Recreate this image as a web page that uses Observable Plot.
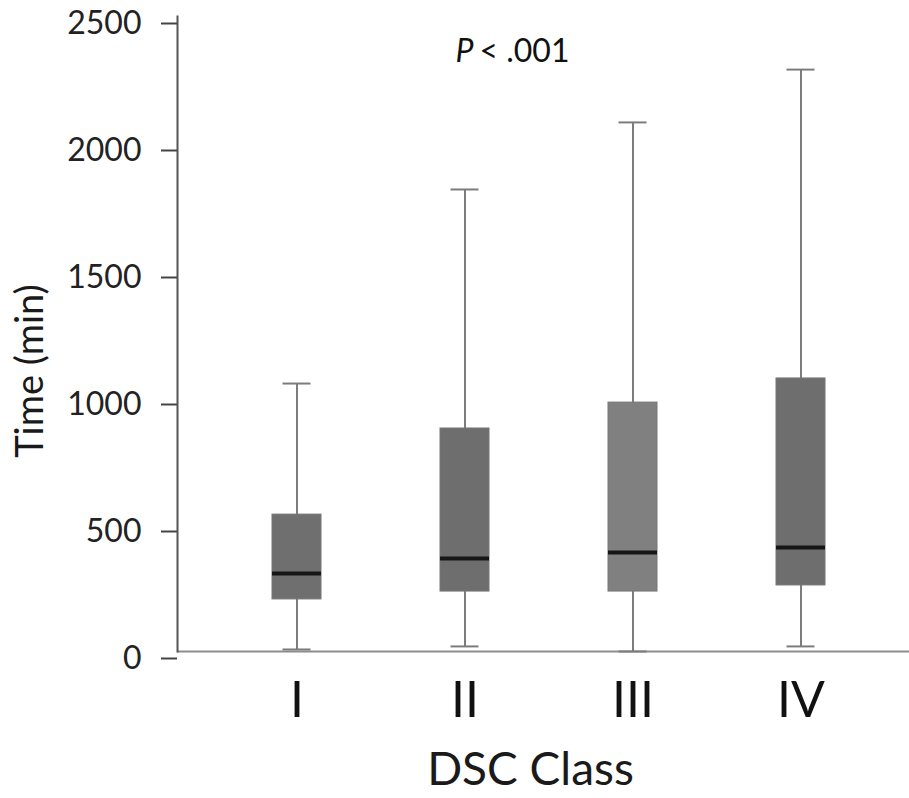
<!DOCTYPE html>
<html>
<head>
<meta charset="utf-8">
<script src="https://cdn.jsdelivr.net/npm/d3@7"></script>
<script src="https://cdn.jsdelivr.net/npm/@observablehq/plot@0.6"></script>
<style>
  html, body { margin: 0; padding: 0; background: #fff; }
</style>
</head>
<body>
<div id="chart"></div>
<script>
const classes = ["I", "II", "III", "IV"];
const whiskerLow = [8, 20, 0, 20];
const q1 = [205, 236, 236, 260];
const median = [307, 366, 390, 409];
const q3 = [539, 878, 980, 1075];
const whiskerHigh = [1055, 1819, 2083, 2291];
const boxFill = ["#6f6f6f", "#6e6e6e", "#808080", "#6e6e6e"];
const yTicks = [0, 500, 1000, 1500, 2000, 2500];
const yLabel = "Time (min)";
const xLabel = "DSC Class";
const pItalic = "P";
const pRest = "< .001";

const rows = classes.map((c, i) => ({
  cls: c, lo: whiskerLow[i], q1: q1[i], med: median[i], q3: q3[i], hi: whiskerHigh[i], fill: boxFill[i]
}));

const chart = Plot.plot({
  width: 909,
  height: 798,
  marginLeft: 177,
  marginRight: 0,
  marginTop: 16,
  marginBottom: 147,
  style: { fontFamily: "Lato, 'Open Sans', sans-serif", background: "white", color: "#222" },
  x: { domain: classes, range: [183, 915], paddingInner: 0.708, paddingOuter: 0.5325 },
  y: { domain: [0, 2500] },
  marks: [
    Plot.axisY({ ticks: yTicks, tickSize: 16, tickPadding: 20, fontSize: 32, dy: 7, label: null, stroke: "#444", strokeWidth: 2, tickFormat: d => String(d) }),
    Plot.axisX({ tickSize: 0, tickPadding: 30, fontSize: 50, label: null, fill: "#111" }),
    Plot.ruleY([0], { stroke: "#8c8c8c", strokeWidth: 2 }),
    Plot.frame({ anchor: "left", stroke: "#555", strokeWidth: 2 }),
    Plot.ruleX(rows, { x: "cls", y1: "lo", y2: "hi", stroke: "#7c7c7c", strokeWidth: 2 }),
    Plot.tickY(rows, { x: "cls", y: "hi", stroke: "#7c7c7c", strokeWidth: 2, insetLeft: 10.5, insetRight: 10.5 }),
    Plot.tickY(rows, { x: "cls", y: "lo", stroke: "#7c7c7c", strokeWidth: 2, insetLeft: 10.5, insetRight: 10.5 }),
    Plot.barY(rows, { x: "cls", y1: "q1", y2: "q3", fill: "fill", stroke: "#777", strokeWidth: 1 }),
    Plot.tickY(rows, { x: "cls", y: "med", stroke: "#161616", strokeWidth: 4 }),
    Plot.text([yLabel], { frameAnchor: "left", text: d => d, rotate: -90, textAnchor: "middle", dx: -147, dy: 37, fontSize: 38, fill: "#1a1a1a" }),
    Plot.text([xLabel], { frameAnchor: "bottom", text: d => d, dx: -13, dy: 119, fontSize: 46, fill: "#1a1a1a", lineAnchor: "middle" }),
    Plot.text([pItalic], { frameAnchor: "top-left", text: d => d, dx: 278, dy: 35, fontSize: 32, fontStyle: "italic", textAnchor: "start", lineAnchor: "middle", fill: "#111" }),
    Plot.text([pRest], { frameAnchor: "top-left", text: d => d, dx: 302, dy: 35, fontSize: 32, textAnchor: "start", lineAnchor: "middle", fill: "#111" })
  ]
});
document.getElementById("chart").appendChild(chart);
</script>
</body>
</html>
